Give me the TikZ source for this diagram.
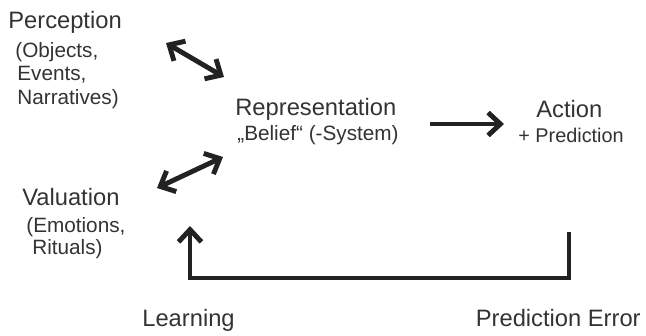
\documentclass[tikz,border=0pt]{standalone}
\usepackage{fontspec}
\setmainfont{Liberation Sans}
\usetikzlibrary{arrows.meta}
\definecolor{txt}{HTML}{333333}
\definecolor{arr}{HTML}{222222}
\begin{document}
\begin{tikzpicture}[x=0.02cm,y=-0.02cm,
  main/.style={inner sep=0pt,anchor=base west,text=txt,font=\fontsize{13.5}{16}\selectfont},
  sub/.style={inner sep=0pt,anchor=base west,text=txt,font=\fontsize{11.8}{14}\selectfont},
  conn/.style={draw=arr,line width=2.8pt,line join=miter},
  barb/.tip={Straight Barb[length=7pt,width=13pt,line width=2.8pt]}]
\useasboundingbox[fill=white] (0,0) rectangle (646,335);
% texts
\node[main] (perc) at (8,28) {Perception};
\node[sub] (obj) at (15,57) {(Objects,};
\node[sub] (evt) at (17,80) {Events,};
\node[sub] (nar) at (17,104) {Narratives)};
\node[main] (rep) at (235,115) {Representation};
\node[sub] (bel) at (237,140) {„Belief“ (-System)};
\node[main] (act) at (536,117) {Action};
\node[sub,font=\fontsize{11.3}{14}\selectfont] (pred) at (518,142) {+ Prediction};
\node[main] (val) at (22,205) {Valuation};
\node[sub] (emo) at (26,232) {(Emotions,};
\node[sub] (rit) at (32,254) {Rituals)};
\node[main] (learn) at (142,326) {Learning};
\node[main,anchor=base east] (perr) at (641,326) {Prediction Error};
% arrow end points
\coordinate (a1) at (166,43);
\coordinate (a2) at (224,77);
\coordinate (b1) at (157,188);
\coordinate (b2) at (223,157);
\coordinate (c1) at (430,124);
\coordinate (c2) at (504,124);
\coordinate (f1) at (569,232);
\coordinate (f2) at (569,278);
\coordinate (f3) at (190,278);
\coordinate (f4) at (190,226);
% arrows
\draw[conn,barb-barb] (a1) -- (a2);
\draw[conn,barb-barb] (b1) -- (b2);
\draw[conn,-barb] (c1) -- (c2);
\draw[conn,-barb] (f1) -- (f2) -- (f3) -- (f4);
\end{tikzpicture}
\end{document}
